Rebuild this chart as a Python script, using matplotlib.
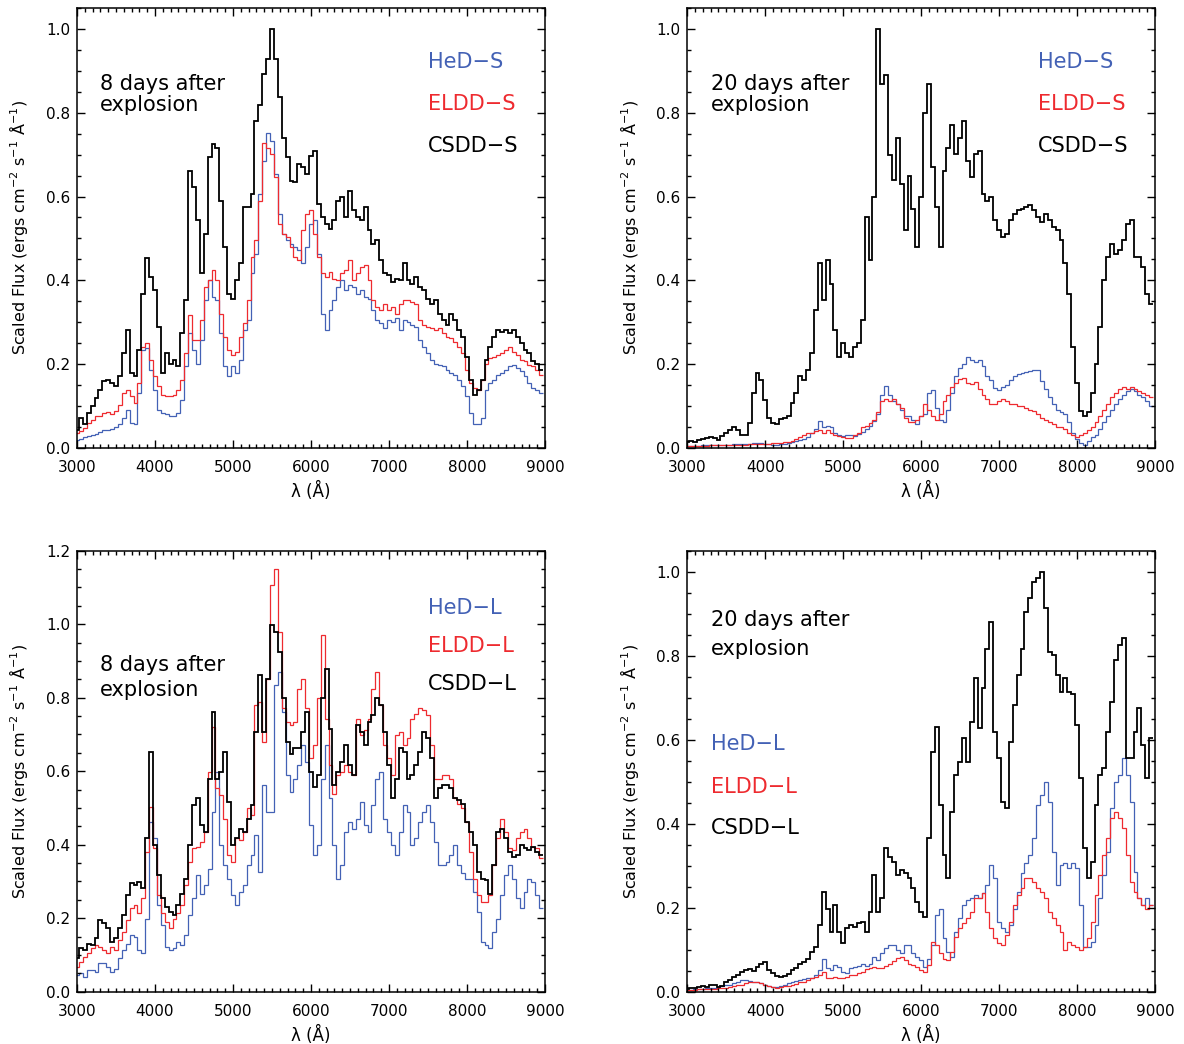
import numpy as np
import matplotlib
matplotlib.use("Agg")
import matplotlib.pyplot as plt
from matplotlib.ticker import MultipleLocator, FormatStrFormatter

# ---------------- data (scaled flux, 50 A bins centred on 3000..8950 A) ----------------
tl_csdd = [0.043,0.071,0.055,0.083,0.10,0.118,0.138,0.158,0.162,0.154,
0.146,0.17,0.225,0.28,0.178,0.17,0.233,0.368,0.452,0.408,
0.376,0.289,0.178,0.225,0.2,0.21,0.194,0.273,0.352,0.662,
0.622,0.543,0.416,0.51,0.694,0.725,0.717,0.59,0.48,0.368,
0.356,0.40,0.44,0.575,0.575,0.606,0.78,0.82,0.892,0.928,
1.0,0.928,0.837,0.741,0.694,0.638,0.634,0.678,0.67,0.654,
0.698,0.71,0.583,0.551,0.535,0.523,0.543,0.59,0.598,0.551,
0.614,0.567,0.551,0.543,0.575,0.519,0.487,0.495,0.448,0.416,
0.412,0.396,0.404,0.40,0.44,0.40,0.392,0.408,0.384,0.376,
0.356,0.344,0.352,0.32,0.305,0.293,0.32,0.305,0.281,0.265,
0.217,0.162,0.126,0.138,0.162,0.21,0.241,0.265,0.281,0.277,
0.281,0.273,0.281,0.265,0.249,0.233,0.225,0.206,0.20,0.186]
tl_eldd = [0.035,0.039,0.047,0.059,0.065,0.075,0.076,0.083,0.084,0.079,
0.087,0.102,0.13,0.138,0.122,0.106,0.154,0.241,0.249,0.21,
0.17,0.146,0.126,0.122,0.122,0.126,0.138,0.162,0.225,0.317,
0.257,0.257,0.305,0.384,0.40,0.424,0.40,0.32,0.265,0.233,
0.221,0.229,0.265,0.297,0.352,0.456,0.495,0.59,0.729,0.717,
0.702,0.646,0.535,0.511,0.503,0.479,0.456,0.448,0.519,0.559,
0.567,0.511,0.456,0.416,0.408,0.42,0.404,0.40,0.416,0.424,
0.448,0.40,0.416,0.432,0.436,0.40,0.352,0.337,0.329,0.344,
0.329,0.337,0.32,0.344,0.352,0.352,0.348,0.344,0.305,0.293,
0.289,0.285,0.281,0.285,0.273,0.265,0.261,0.253,0.241,0.225,
0.186,0.154,0.142,0.138,0.162,0.20,0.213,0.217,0.221,0.225,
0.233,0.241,0.229,0.221,0.21,0.206,0.198,0.194,0.186,0.174]
tl_hed = [0.019,0.021,0.025,0.027,0.031,0.033,0.037,0.041,0.043,0.044,
0.049,0.055,0.071,0.089,0.059,0.055,0.13,0.233,0.237,0.186,
0.138,0.09,0.083,0.081,0.076,0.075,0.083,0.114,0.194,0.273,
0.233,0.20,0.257,0.352,0.40,0.36,0.352,0.273,0.194,0.17,
0.194,0.178,0.21,0.281,0.305,0.416,0.463,0.606,0.686,0.753,
0.733,0.654,0.559,0.511,0.495,0.487,0.479,0.471,0.44,0.479,
0.535,0.543,0.463,0.32,0.281,0.329,0.352,0.384,0.40,0.376,
0.388,0.384,0.368,0.376,0.36,0.356,0.329,0.305,0.297,0.285,
0.305,0.301,0.309,0.281,0.305,0.301,0.293,0.289,0.257,0.241,
0.225,0.21,0.20,0.198,0.194,0.186,0.178,0.174,0.162,0.146,
0.122,0.083,0.057,0.055,0.071,0.138,0.154,0.162,0.174,0.178,
0.186,0.194,0.198,0.19,0.182,0.17,0.154,0.142,0.138,0.13]

tr_csdd = [0.013,0.015,0.013,0.017,0.021,0.023,0.025,0.022,0.019,0.027,
0.035,0.043,0.049,0.041,0.031,0.031,0.059,0.13,0.178,0.162,
0.114,0.071,0.059,0.055,0.067,0.071,0.075,0.106,0.13,0.17,
0.162,0.186,0.225,0.329,0.44,0.352,0.448,0.392,0.281,0.217,
0.249,0.225,0.217,0.241,0.249,0.305,0.551,0.448,0.60,1.0,
0.87,0.89,0.70,0.64,0.74,0.63,0.52,0.65,0.57,0.48,
0.60,0.80,0.87,0.67,0.575,0.479,0.662,0.717,0.771,0.702,
0.741,0.781,0.686,0.646,0.702,0.71,0.606,0.59,0.598,0.543,
0.519,0.503,0.511,0.543,0.559,0.567,0.571,0.575,0.579,0.567,
0.551,0.539,0.559,0.543,0.527,0.519,0.495,0.44,0.368,0.241,
0.154,0.087,0.076,0.084,0.13,0.20,0.289,0.40,0.456,0.487,
0.463,0.471,0.495,0.535,0.543,0.456,0.456,0.432,0.368,0.344]
tr_eldd = [0.003,0.003,0.003,0.004,0.004,0.004,0.005,0.005,0.005,0.005,
0.006,0.006,0.006,0.007,0.007,0.007,0.008,0.008,0.009,0.009,
0.009,0.009,0.01,0.011,0.011,0.012,0.013,0.016,0.02,0.024,
0.03,0.035,0.035,0.04,0.043,0.035,0.043,0.035,0.03,0.027,
0.026,0.023,0.023,0.03,0.035,0.048,0.052,0.058,0.066,0.085,
0.11,0.115,0.11,0.115,0.105,0.095,0.07,0.06,0.06,0.065,
0.075,0.105,0.09,0.075,0.065,0.08,0.11,0.125,0.145,0.155,
0.163,0.165,0.155,0.152,0.157,0.14,0.125,0.115,0.105,0.105,
0.11,0.115,0.11,0.105,0.105,0.1,0.1,0.095,0.09,0.087,
0.08,0.07,0.065,0.06,0.055,0.05,0.05,0.045,0.035,0.03,
0.025,0.03,0.035,0.042,0.048,0.06,0.075,0.09,0.105,0.12,
0.13,0.14,0.145,0.14,0.145,0.14,0.135,0.13,0.125,0.12]
tr_hed = [0.004,0.004,0.004,0.004,0.005,0.005,0.005,0.006,0.006,0.006,
0.007,0.007,0.008,0.008,0.008,0.008,0.009,0.01,0.011,0.01,
0.009,0.008,0.007,0.007,0.008,0.009,0.011,0.013,0.016,0.019,
0.021,0.025,0.035,0.045,0.063,0.05,0.052,0.05,0.035,0.03,
0.027,0.03,0.031,0.027,0.033,0.037,0.045,0.052,0.063,0.08,
0.125,0.148,0.125,0.11,0.105,0.09,0.075,0.075,0.065,0.056,
0.075,0.08,0.13,0.138,0.095,0.065,0.06,0.09,0.13,0.17,
0.19,0.2,0.217,0.21,0.205,0.21,0.195,0.17,0.162,0.142,
0.138,0.145,0.15,0.162,0.17,0.175,0.178,0.18,0.183,0.185,
0.186,0.16,0.14,0.12,0.105,0.09,0.085,0.08,0.06,0.035,
0.02,0.01,0.005,0.015,0.025,0.03,0.045,0.06,0.075,0.09,
0.105,0.115,0.125,0.135,0.14,0.135,0.125,0.12,0.11,0.1]

bl_csdd = [0.091,0.118,0.113,0.131,0.127,0.145,0.195,0.186,0.172,0.136,
0.145,0.172,0.209,0.263,0.295,0.29,0.299,0.281,0.417,0.653,
0.399,0.317,0.254,0.231,0.218,0.209,0.236,0.267,0.308,0.399,
0.508,0.526,0.453,0.435,0.58,0.762,0.58,0.598,0.653,0.517,
0.399,0.417,0.444,0.435,0.471,0.508,0.707,0.861,0.707,0.852,
0.997,0.979,0.925,0.798,0.68,0.648,0.662,0.662,0.707,0.762,
0.598,0.558,0.589,0.798,0.879,0.716,0.562,0.598,0.626,0.671,
0.616,0.589,0.725,0.707,0.671,0.734,0.752,0.798,0.78,0.707,
0.616,0.526,0.58,0.662,0.653,0.58,0.589,0.616,0.653,0.707,
0.689,0.635,0.526,0.553,0.562,0.562,0.553,0.526,0.521,0.512,
0.462,0.435,0.399,0.326,0.308,0.304,0.267,0.345,0.435,0.444,
0.417,0.381,0.367,0.372,0.399,0.39,0.385,0.394,0.381,0.372]
bl_eldd = [0.068,0.082,0.095,0.104,0.118,0.127,0.122,0.113,0.104,0.122,
0.113,0.141,0.163,0.195,0.227,0.236,0.213,0.254,0.381,0.503,
0.39,0.263,0.213,0.19,0.172,0.199,0.213,0.236,0.29,0.354,
0.39,0.394,0.408,0.435,0.598,0.721,0.553,0.535,0.471,0.372,
0.354,0.417,0.413,0.435,0.499,0.481,0.78,0.789,0.68,0.852,
1.106,1.151,0.979,0.771,0.734,0.725,0.734,0.825,0.852,0.771,
0.635,0.671,0.798,0.97,0.743,0.616,0.539,0.589,0.598,0.616,
0.598,0.589,0.743,0.698,0.712,0.743,0.825,0.87,0.78,0.671,
0.635,0.589,0.698,0.707,0.671,0.689,0.743,0.757,0.771,0.766,
0.753,0.671,0.58,0.58,0.589,0.589,0.58,0.526,0.512,0.499,
0.462,0.381,0.308,0.263,0.245,0.245,0.263,0.345,0.417,0.471,
0.435,0.39,0.385,0.417,0.435,0.444,0.417,0.394,0.39,0.363]
bl_hed = [0.045,0.05,0.041,0.059,0.059,0.054,0.077,0.077,0.068,0.054,
0.063,0.091,0.113,0.131,0.154,0.15,0.113,0.104,0.199,0.462,
0.417,0.236,0.181,0.122,0.113,0.118,0.136,0.127,0.154,0.209,
0.254,0.317,0.267,0.29,0.335,0.49,0.598,0.399,0.345,0.308,
0.263,0.236,0.272,0.29,0.345,0.372,0.426,0.326,0.562,0.49,
0.49,0.834,0.87,0.762,0.589,0.544,0.58,0.616,0.671,0.626,
0.453,0.372,0.399,0.58,0.671,0.526,0.399,0.308,0.345,0.435,
0.462,0.444,0.471,0.517,0.453,0.435,0.508,0.58,0.598,0.471,
0.435,0.399,0.372,0.435,0.508,0.49,0.399,0.417,0.462,0.49,
0.508,0.462,0.408,0.345,0.345,0.354,0.372,0.399,0.345,0.322,
0.308,0.308,0.272,0.218,0.136,0.127,0.118,0.163,0.199,0.263,
0.317,0.345,0.308,0.254,0.227,0.272,0.308,0.299,0.263,0.227]

br_csdd = [0.006,0.008,0.01,0.012,0.014,0.012,0.017,0.016,0.012,0.014,
0.024,0.028,0.036,0.04,0.046,0.052,0.054,0.049,0.06,0.067,
0.071,0.052,0.044,0.038,0.036,0.038,0.041,0.052,0.057,0.065,
0.071,0.079,0.095,0.107,0.159,0.238,0.198,0.143,0.206,0.143,
0.115,0.151,0.159,0.155,0.163,0.167,0.143,0.19,0.278,0.19,
0.222,0.341,0.321,0.31,0.278,0.29,0.282,0.27,0.246,0.214,
0.19,0.179,0.365,0.571,0.631,0.444,0.325,0.27,0.429,0.516,
0.548,0.603,0.548,0.643,0.746,0.627,0.722,0.817,0.881,0.619,
0.556,0.452,0.437,0.595,0.683,0.754,0.817,0.905,0.937,0.976,
0.984,1.0,0.913,0.81,0.802,0.754,0.714,0.746,0.714,0.71,
0.635,0.508,0.341,0.27,0.31,0.444,0.516,0.532,0.619,0.69,
0.79,0.825,0.841,0.556,0.556,0.619,0.675,0.587,0.508,0.603]
br_eldd = [0.004,0.004,0.005,0.006,0.006,0.006,0.006,0.007,0.008,0.009,
0.01,0.012,0.014,0.016,0.017,0.02,0.022,0.022,0.022,0.02,
0.016,0.014,0.012,0.01,0.011,0.013,0.014,0.016,0.019,0.022,
0.024,0.028,0.032,0.036,0.04,0.048,0.033,0.032,0.036,0.033,
0.032,0.036,0.04,0.04,0.044,0.048,0.054,0.056,0.06,0.056,
0.056,0.062,0.067,0.073,0.081,0.083,0.075,0.067,0.063,0.06,
0.052,0.048,0.063,0.119,0.111,0.091,0.079,0.075,0.095,0.131,
0.151,0.163,0.175,0.19,0.222,0.222,0.234,0.19,0.151,0.127,
0.115,0.111,0.135,0.167,0.206,0.23,0.246,0.27,0.27,0.262,
0.246,0.238,0.222,0.19,0.175,0.159,0.143,0.099,0.119,0.111,
0.107,0.099,0.107,0.127,0.167,0.23,0.278,0.325,0.365,0.413,
0.429,0.413,0.389,0.325,0.262,0.238,0.222,0.206,0.198,0.206]
br_hed = [0.004,0.005,0.006,0.006,0.007,0.008,0.008,0.01,0.012,0.014,
0.016,0.017,0.02,0.022,0.028,0.028,0.025,0.024,0.022,0.02,
0.017,0.014,0.012,0.012,0.014,0.017,0.02,0.022,0.025,0.028,
0.03,0.032,0.033,0.04,0.052,0.079,0.056,0.052,0.063,0.06,
0.048,0.044,0.056,0.06,0.062,0.065,0.062,0.067,0.083,0.075,
0.091,0.103,0.111,0.111,0.099,0.091,0.111,0.111,0.091,0.083,
0.075,0.06,0.079,0.111,0.183,0.198,0.127,0.095,0.083,0.143,
0.175,0.206,0.218,0.222,0.23,0.222,0.234,0.254,0.302,0.27,
0.167,0.151,0.143,0.159,0.198,0.238,0.282,0.306,0.325,0.365,
0.444,0.468,0.5,0.452,0.333,0.254,0.302,0.306,0.294,0.306,
0.294,0.206,0.107,0.107,0.119,0.159,0.222,0.278,0.333,0.437,
0.5,0.516,0.556,0.516,0.452,0.286,0.222,0.206,0.222,0.206]

bin_width = 50.0
wl_start = 3000.0

BLUE = "#4361b5"
RED = "#ee2a2f"
BLACK = "#000000"

# ---------------- figure ----------------
W, H = 1184, 1044
fig = plt.figure(figsize=(W / 100, H / 100), dpi=100)
plt.rcParams['font.family'] = ['DejaVu Sans']
plt.rcParams['mathtext.fontset'] = 'dejavusans'

def ax_at(x0, x1, y0, y1):
    return fig.add_axes([x0 / W, 1 - y1 / H, (x1 - x0) / W, (y1 - y0) / H])

panels = [
    dict(box=(77, 545, 8.3, 447.5), ymax=1.05,
         series=[(tl_hed, BLUE, 0.9), (tl_eldd, RED, 0.9), (tl_csdd, BLACK, 1.3)],
         labels=["HeD\u2212S", "ELDD\u2212S", "CSDD\u2212S"], lab_x=0.75, lab_y=[0.878, 0.782, 0.686],
         note=["8 days after", "explosion"], note_x=0.049, note_y=[0.828, 0.780]),
    dict(box=(687.3, 1155, 8.3, 447.5), ymax=1.05,
         series=[(tr_hed, BLUE, 0.9), (tr_eldd, RED, 0.9), (tr_csdd, BLACK, 1.3)],
         labels=["HeD\u2212S", "ELDD\u2212S", "CSDD\u2212S"], lab_x=0.75, lab_y=[0.878, 0.782, 0.686],
         note=["20 days after", "explosion"], note_x=0.051, note_y=[0.828, 0.780]),
    dict(box=(77, 545, 550.7, 991.7), ymax=1.2,
         series=[(bl_hed, BLUE, 0.9), (bl_eldd, RED, 0.9), (bl_csdd, BLACK, 1.3)],
         labels=["HeD\u2212L", "ELDD\u2212L", "CSDD\u2212L"], lab_x=0.75, lab_y=[0.870, 0.784, 0.697],
         note=["8 days after", "explosion"], note_x=0.049, note_y=[0.741, 0.684]),
    dict(box=(687.3, 1155, 550.7, 991.7), ymax=1.05,
         series=[(br_hed, BLUE, 0.9), (br_eldd, RED, 0.9), (br_csdd, BLACK, 1.3)],
         labels=["HeD\u2212L", "ELDD\u2212L", "CSDD\u2212L"], lab_x=0.051, lab_y=[0.562, 0.465, 0.372],
         note=["20 days after", "explosion"], note_x=0.051, note_y=[0.843, 0.777]),
]

for p in panels:
    ax = ax_at(*p["box"])
    for vals, col, lw in p["series"]:
        v = np.asarray(vals, dtype=float)
        edges = wl_start - bin_width / 2 + bin_width * np.arange(len(v) + 1)
        ax.stairs(v, edges, color=col, lw=lw, baseline=None)
    ax.set_xlim(3000, 9000)
    ax.set_ylim(0, p["ymax"])
    ax.xaxis.set_major_locator(MultipleLocator(1000))
    ax.xaxis.set_minor_locator(MultipleLocator(100))
    ax.yaxis.set_major_locator(MultipleLocator(0.2))
    ax.yaxis.set_minor_locator(MultipleLocator(0.05))
    ax.yaxis.set_major_formatter(FormatStrFormatter("%.1f"))
    ax.tick_params(which="both", direction="in", top=True, right=True, width=1.0)
    ax.tick_params(which="major", length=6)
    ax.tick_params(which="minor", length=3)
    ax.tick_params(axis="x", which="major", pad=9, labelsize=11)
    ax.tick_params(axis="y", which="major", pad=5, labelsize=11)
    for s in ax.spines.values():
        s.set_linewidth(1.1)
    ax.set_xlabel("\u03bb (\u00c5)", fontsize=12)
    ax.xaxis.set_label_coords(0.5, -0.078)
    ax.set_ylabel("Scaled Flux (ergs cm$^{-2}$ s$^{-1}$ \u00c5$^{-1}$)", fontsize=11.5)
    ax.yaxis.set_label_coords(-0.1, 0.5)
    for lab, (vals, col, lw), yy in zip(p["labels"], p["series"], p["lab_y"]):
        ax.text(p["lab_x"], yy, lab, color=col, fontsize=15, transform=ax.transAxes,
                ha="left", va="center")
    for t, yy in zip(p["note"], p["note_y"]):
        ax.text(p["note_x"], yy, t, color="black", fontsize=15, transform=ax.transAxes,
                ha="left", va="center")

fig.savefig("out.png", dpi=100)
